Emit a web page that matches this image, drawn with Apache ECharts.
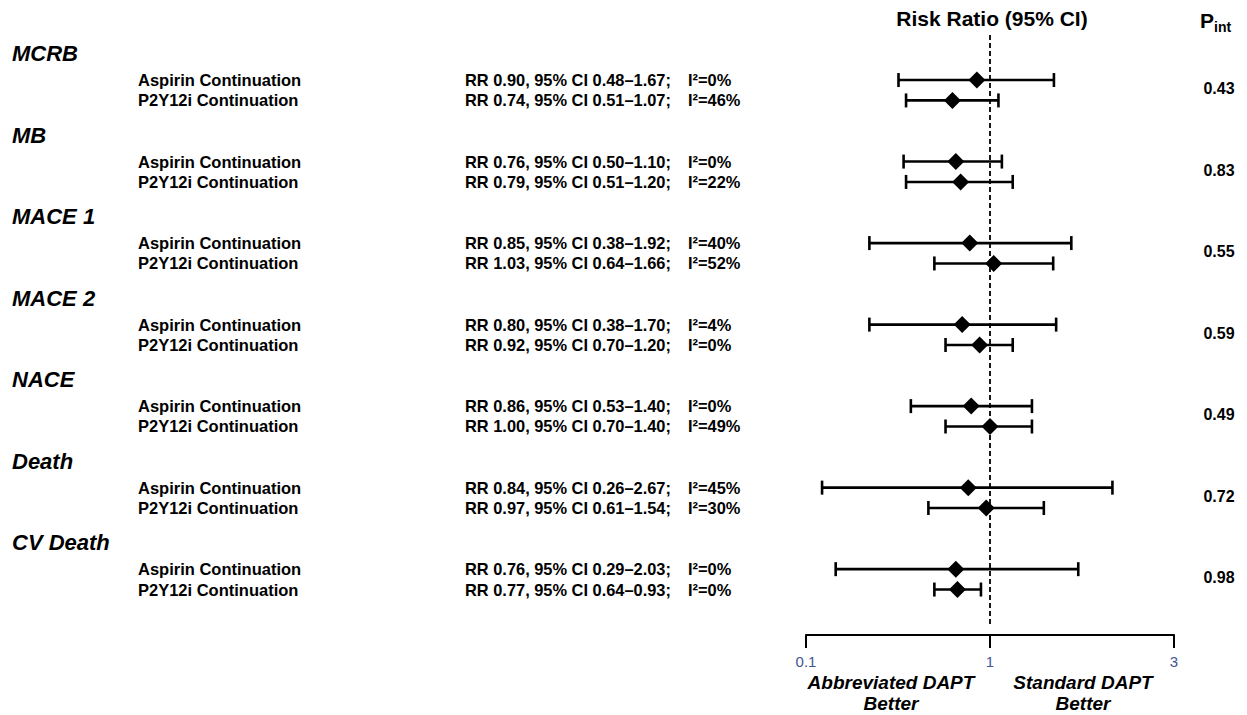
<!DOCTYPE html>
<html>
<head>
<meta charset="utf-8">
<script src="https://cdn.jsdelivr.net/npm/echarts@6/dist/echarts.min.js"></script>
<style>
html,body{margin:0;padding:0;background:#fff;}
#chart{width:1247px;height:715px;}
</style>
</head>
<body>
<div id="chart"></div>
<script>
// ---- data ----
var groups = ['MCRB', 'MB', 'MACE 1', 'MACE 2', 'NACE', 'Death', 'CV Death'];
var arms = ['Aspirin Continuation', 'P2Y12i Continuation'];
var aspRR = [0.90, 0.76, 0.85, 0.80, 0.86, 0.84, 0.76];
var aspLo = [0.48, 0.50, 0.38, 0.38, 0.53, 0.26, 0.29];
var aspHi = [1.67, 1.10, 1.92, 1.70, 1.40, 2.67, 2.03];
var aspI2 = [0, 0, 40, 4, 0, 45, 0];
var p2yRR = [0.74, 0.79, 1.03, 0.92, 1.00, 0.97, 0.77];
var p2yLo = [0.51, 0.51, 0.64, 0.70, 0.70, 0.61, 0.64];
var p2yHi = [1.07, 1.20, 1.66, 1.20, 1.40, 1.54, 0.93];
var p2yI2 = [46, 22, 52, 0, 49, 30, 0];
var pInt = ['0.43', '0.83', '0.55', '0.59', '0.49', '0.72', '0.98'];
var tickLabels = ['0.1', '1', '3'];
var refValue = 1;

// ---- layout ----
var FONT = "'Liberation Sans', Arial, Helvetica, sans-serif";
var GROUP_STEP = 4;      // row units per outcome group
var TITLE_OFF = -1.3;    // group title offset (rows)
var P_OFF = 0.42;        // p-value offset (rows)
var COL = {title: 12, arm: 138, rr: 465, i2: 688, p: 1219};
var LOGSPAN = 0.641;     // decades either side of 1 in the plot area
var YMIN = -2.21, YMAX = 26.74;

var ciData = [], ptData = [], titleData = [], armData = [], rrData = [], i2Data = [], pData = [];
function fmt(v) { return v.toFixed(2); }
for (var g = 0; g < groups.length; g++) {
  var base = g * GROUP_STEP;
  titleData.push({value: [COL.title, base + TITLE_OFF], name: groups[g]});
  pData.push({value: [COL.p, base + P_OFF], name: pInt[g]});
  var rows = [
    {rr: aspRR[g], lo: aspLo[g], hi: aspHi[g], i2: aspI2[g], arm: arms[0], r: base},
    {rr: p2yRR[g], lo: p2yLo[g], hi: p2yHi[g], i2: p2yI2[g], arm: arms[1], r: base + 1}
  ];
  rows.forEach(function (o) {
    ciData.push([o.lo, o.hi, o.r]);
    ptData.push([o.rr, o.r]);
    armData.push({value: [COL.arm, o.r], name: o.arm});
    rrData.push({value: [COL.rr, o.r], name: 'RR ' + fmt(o.rr) + ', 95% CI ' + fmt(o.lo) + '\u2013' + fmt(o.hi) + ';'});
    i2Data.push({value: [COL.i2, o.r], name: 'I\u00B2=' + o.i2 + '%'});
  });
}

function textSeries(data, size, weight, style, pos) {
  return {
    type: 'scatter', xAxisIndex: 2, yAxisIndex: 1, data: data,
    symbolSize: 0, silent: true, animation: false,
    itemStyle: {opacity: 1, color: '#000'},
    label: {
      show: true, position: pos || 'right', distance: 0,
      formatter: function (p) { return p.name; },
      fontFamily: FONT, fontSize: size, fontWeight: weight, fontStyle: style || 'normal',
      color: '#000', opacity: 1
    }
  };
}

var chart = echarts.init(document.getElementById('chart'), null, {renderer: 'svg'});
var option = {
  backgroundColor: '#fff',
  animation: false,
  grid: [
    {left: 806, right: 73, top: 35, bottom: 90},
    {left: 0, right: 0, top: 35, bottom: 90}
  ],
  xAxis: [
    {type: 'log', gridIndex: 0, min: Math.pow(10, -LOGSPAN), max: Math.pow(10, LOGSPAN),
     show: false},
    {type: 'category', gridIndex: 0, data: tickLabels, boundaryGap: false, position: 'bottom', offset: 10,
     axisLine: {show: true, lineStyle: {color: '#000', width: 2}},
     axisTick: {show: true, length: 13, interval: 0, lineStyle: {color: '#000', width: 2}},
     axisLabel: {show: true, interval: 0, margin: 19, color: '#3F5694', fontSize: 15, fontFamily: FONT},
     splitLine: {show: false}},
    {type: 'value', gridIndex: 1, min: 0, max: 1247, show: false}
  ],
  yAxis: [
    {type: 'value', gridIndex: 0, inverse: true, min: YMIN, max: YMAX, show: false},
    {type: 'value', gridIndex: 1, inverse: true, min: YMIN, max: YMAX, show: false}
  ],
  graphic: [
    {type: 'text', style: {text: 'Risk Ratio (95% CI)', x: 992, y: 18, align: 'center', verticalAlign: 'middle',
      fontFamily: FONT, fontSize: 21, fontWeight: 'bold', fill: '#000'}},
    {type: 'text', style: {text: 'P', x: 1200, y: 20, align: 'left', verticalAlign: 'middle',
      fontFamily: FONT, fontSize: 21, fontWeight: 'bold', fill: '#000'}},
    {type: 'text', style: {text: 'int', x: 1214, y: 27, align: 'left', verticalAlign: 'middle',
      fontFamily: FONT, fontSize: 14, fontWeight: 'bold', fill: '#000'}},
    {type: 'text', style: {text: 'Abbreviated DAPT\nBetter', x: 891, y: 671.5, align: 'center', verticalAlign: 'top',
      lineHeight: 21, fontFamily: FONT, fontSize: 19, fontWeight: 'bold', fontStyle: 'italic', fill: '#000'}},
    {type: 'text', style: {text: 'Standard DAPT\nBetter', x: 1083, y: 671.5, align: 'center', verticalAlign: 'top',
      lineHeight: 21, fontFamily: FONT, fontSize: 19, fontWeight: 'bold', fontStyle: 'italic', fill: '#000'}}
  ],
  series: [
    {
      type: 'custom', xAxisIndex: 0, yAxisIndex: 0, data: ciData, clip: false, silent: true,
      encode: {x: [0, 1], y: 2},
      renderItem: function (params, api) {
        var a = api.coord([api.value(0), api.value(2)]);
        var b = api.coord([api.value(1), api.value(2)]);
        var cap = 7;
        var st = {stroke: '#000', lineWidth: 2.6, fill: null};
        return {type: 'group', children: [
          {type: 'line', shape: {x1: a[0], y1: a[1], x2: b[0], y2: b[1]}, style: st},
          {type: 'line', shape: {x1: a[0], y1: a[1] - cap, x2: a[0], y2: a[1] + cap}, style: st},
          {type: 'line', shape: {x1: b[0], y1: b[1] - cap, x2: b[0], y2: b[1] + cap}, style: st}
        ]};
      },
      z: 3
    },
    {
      type: 'scatter', xAxisIndex: 0, yAxisIndex: 0, data: ptData, symbol: 'diamond', symbolSize: 17,
      itemStyle: {color: '#000', opacity: 1}, silent: true, z: 4,
      markLine: {
        silent: true, symbol: ['none', 'none'], label: {show: false},
        lineStyle: {color: '#000', type: [5, 3], width: 1.8, opacity: 1},
        data: [{xAxis: refValue}]
      }
    },
    textSeries(titleData, 22, 'bold', 'italic'),
    textSeries(armData, 16.5, 'bold'),
    textSeries(rrData, 16.4, 'bold'),
    textSeries(i2Data, 16.4, 'bold'),
    textSeries(pData, 16, 'bold', 'normal', 'inside')
  ]
};
chart.setOption(option);
</script>
</body>
</html>
